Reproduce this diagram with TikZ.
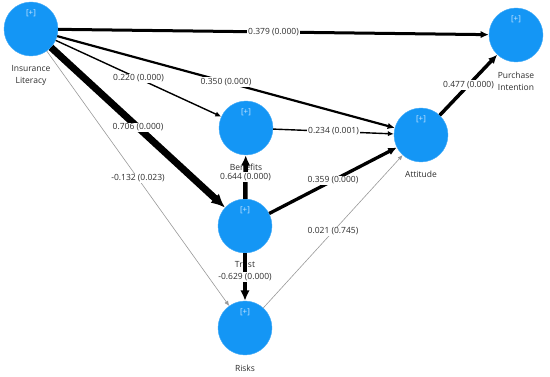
\documentclass[tikz,border=0pt]{standalone}
\usepackage{fontspec}
\setsansfont{Open Sans}
\usetikzlibrary{arrows.meta}
\definecolor{lvblue}{RGB}{20,150,245}
\definecolor{plusc}{RGB}{205,232,255}
\definecolor{txtc}{RGB}{45,45,45}

\begin{document}
\begin{tikzpicture}[x=1pt, y=-1pt,
    lv/.style={circle, fill=lvblue, draw=lvblue!80!white, minimum size=54pt, inner sep=0pt,
        label={[plus]north:[+]}},
    plus/.style={anchor=north, yshift=-4pt, text=plusc, font=\sffamily\fontsize{8}{9}\selectfont},
    lab/.style={text=txtc, align=center, inner sep=1pt, font=\sffamily\fontsize{8.5}{12.5}\selectfont},
    coef/.style={midway, fill=white, text=txtc, inner sep=1pt, font=\sffamily\fontsize{8.5}{10}\selectfont},
    pth/.style={line width=#1pt, -{Latex[length=4pt 1.4, width=3.5pt 1.3]}},
    weak/.style={draw=gray!80, line width=0.6pt, -{Latex[length=5pt, width=4.3pt]}}]
    % 画布范围
    \useasboundingbox (0,0) rectangle (550,377);

    % 潜变量
    \node[lv, label={[lab, name=il-t, label distance=8pt]below:Insurance\\Literacy}] (il) at (31,29) {};
    \node[lv, label={[lab, name=pi-t, label distance=8.5pt]below:Purchase\\Intention}] (pi) at (516,35) {};
    \node[lv, label={[lab, name=ben-t, label distance=7.5pt]below:Benefits}] (ben) at (246,128) {};
    \node[lv, label={[lab, name=att-t, label distance=7.5pt]below:Attitude}] (att) at (421,135) {};
    \node[lv, label={[lab, name=tru-t, label distance=7.5pt]below:Trust}] (tru) at (245,226) {};
    \node[lv, label={[lab, name=ris-t, label distance=8.5pt]below:Risks}] (ris) at (245,328) {};

    % 路径系数 (p 值)
    \draw[pth=3] (il) -- (pi) node[coef] {0.379 (0.000)};
    \draw[pth=1.4] (il) -- (ben) node[coef] {0.220 (0.000)};
    \draw[pth=2.2] (il) -- (att) node[coef] {0.350 (0.000)};
    \draw[pth=7] (il) -- (tru) node[coef] {0.706 (0.000)};
    \draw[weak] (il) -- (ris) node[coef] {-0.132 (0.023)};
    \draw[pth=1.4] (ben) -- (att) node[coef] {0.234 (0.001)};
    \draw[pth=4.5] (tru) -- (ben) node[coef] {0.644 (0.000)};
    \draw[pth=3.3] (tru) -- (att) node[coef] {0.359 (0.000)};
    \draw[pth=4.5] (tru) -- (ris) node[coef] {-0.629 (0.000)};
    \draw[weak] (ris) -- (att) node[coef] {0.021 (0.745)};
    \draw[pth=3.5] (att) -- (pi) node[coef] {0.477 (0.000)};
\end{tikzpicture}
\end{document}
